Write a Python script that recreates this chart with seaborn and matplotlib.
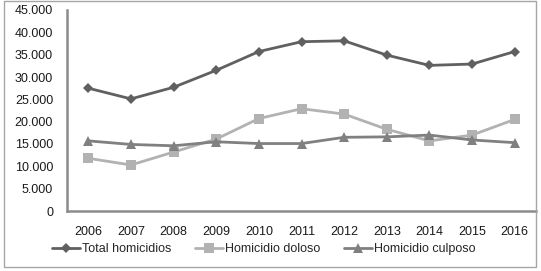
import matplotlib
matplotlib.use('Agg')
import matplotlib.pyplot as plt
import matplotlib.ticker as mticker
from matplotlib.patches import Rectangle
import pandas as pd
import seaborn as sns

# Values
years = [2006, 2007, 2008, 2009, 2010, 2011, 2012, 2013, 2014, 2015, 2016]
total_homicidios = [27500, 25100, 27700, 31500, 35700, 37900, 38100, 34900, 32600, 32900, 35700]
homicidio_doloso = [11800, 10300, 13200, 16100, 20700, 22900, 21700, 18300, 15700, 17000, 20500]
homicidio_culposo = [15700, 14900, 14600, 15500, 15100, 15100, 16500, 16600, 17000, 15900, 15300]
series_names = ['Total homicidios', 'Homicidio doloso', 'Homicidio culposo']

df = pd.DataFrame({
    'Año': years * 3,
    'Valor': total_homicidios + homicidio_doloso + homicidio_culposo,
    'Serie': [n for n in series_names for _ in years],
})

sns.set_style('white')
plt.rcParams['font.family'] = ['Liberation Sans', 'DejaVu Sans']

fig = plt.figure(figsize=(5.41, 2.71), dpi=100)
ax = fig.add_axes([67 / 541, 1 - 211 / 271, (536 - 67) / 541, (211 - 10) / 271])

palette = {'Total homicidios': '#606060',
           'Homicidio doloso': '#b2b2b2',
           'Homicidio culposo': '#808080'}
markers = {'Total homicidios': 'D',
           'Homicidio doloso': 's',
           'Homicidio culposo': '^'}
sizes = {'Total homicidios': 5, 'Homicidio doloso': 7, 'Homicidio culposo': 7}

for name in series_names:
    sns.lineplot(data=df[df['Serie'] == name], x='Año', y='Valor', ax=ax,
                 color=palette[name], marker=markers[name],
                 markersize=sizes[name], markeredgewidth=0,
                 linewidth=2, label=name, legend=False)

ax.set_xlim(2005.5, 2016.5)
ax.set_ylim(0, 45000)
ax.set_xticks(years)
ax.set_yticks(range(0, 45001, 5000))
ax.yaxis.set_major_formatter(
    mticker.FuncFormatter(lambda v, p: f'{int(v):,}'.replace(',', '.')))
ax.tick_params(axis='both', length=0, labelsize=9, colors='#1a1a1a')
ax.tick_params(axis='y', pad=10)
ax.tick_params(axis='x', pad=11)
ax.set_xlabel('')
ax.set_ylabel('')
ax.grid(False)

for side in ['top', 'right']:
    ax.spines[side].set_visible(False)
for side in ['left', 'bottom']:
    ax.spines[side].set_color('#8c8c8c')
    ax.spines[side].set_linewidth(1.8)

handles, labels = ax.get_legend_handles_labels()
fig.legend(handles, labels, loc='center', ncol=3, frameon=False,
           bbox_to_anchor=(0.488, 1 - 249 / 271), fontsize=9,
           handlelength=2.2, columnspacing=1.9, handletextpad=0.2)

# outer chart frame
fig.patches.append(Rectangle((4 / 541, 1 - 267 / 271), 532 / 541, 266 / 271,
                             transform=fig.transFigure, fill=False,
                             edgecolor='#a6a6a6', linewidth=1))

fig.savefig('out.png', dpi=100)
